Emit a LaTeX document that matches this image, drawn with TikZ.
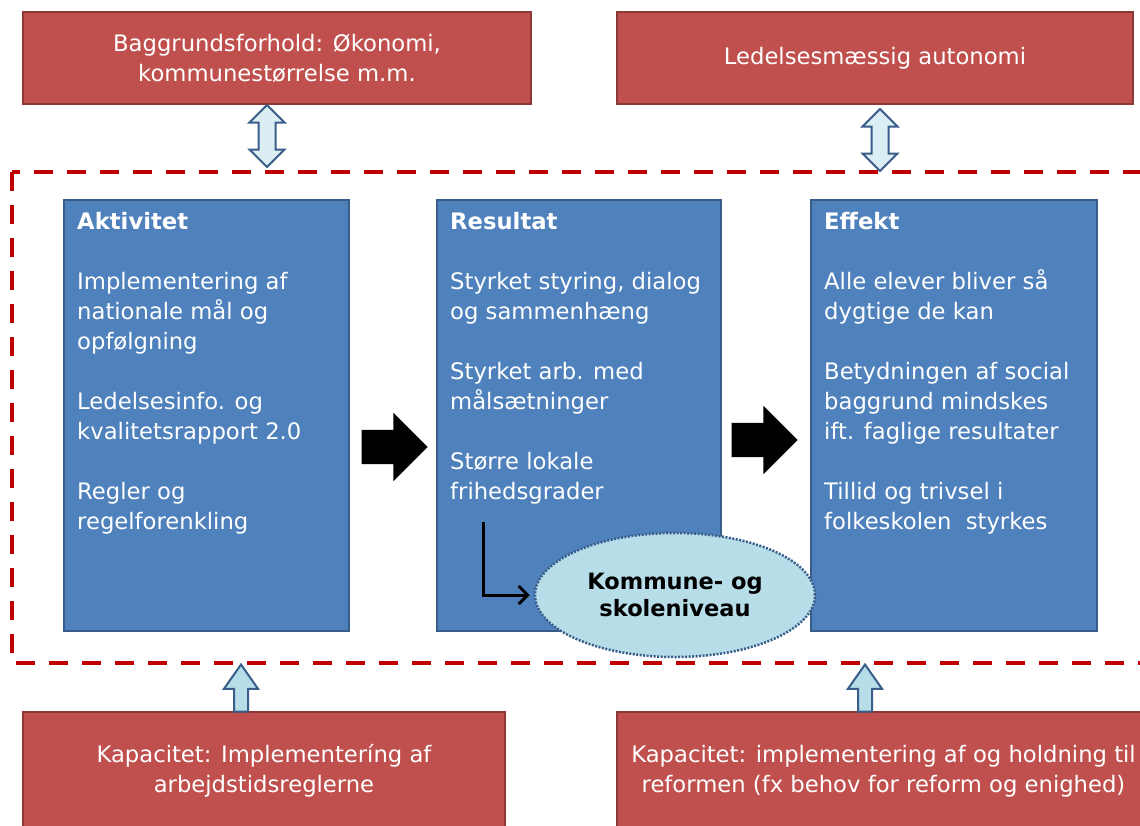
\documentclass[tikz,border=0pt]{standalone}
\usepackage{fontspec}
\setmainfont{DejaVu Sans}
\usetikzlibrary{arrows,arrows.meta,shapes.geometric,shapes.arrows}
\definecolor{boxred}{HTML}{C0504D}
\definecolor{boxredline}{HTML}{8C3836}
\definecolor{boxblue}{HTML}{4F81BD}
\definecolor{boxblueline}{HTML}{385D8A}
\definecolor{framered}{HTML}{C00000}
\definecolor{paleblue}{HTML}{DBEEF4}
\definecolor{lightblue}{HTML}{B7DDE8}

\begin{document}
\begin{tikzpicture}[x=1pt,y=-1pt]
\tikzstyle{every node}=[inner sep=0pt]
\tikzstyle{redbox}=[draw=boxredline, fill=boxred, line width=2pt, text=white, align=center, font=\fontsize{22.7}{30}\selectfont]
\tikzstyle{bluebox}=[draw=boxblueline, fill=boxblue, line width=2.5pt]
\tikzstyle{boxtext}=[anchor=north west, text=white, align=left, font=\fontsize{22.7}{30}\selectfont]
\tikzstyle{twoway}=[double arrow, draw=boxblueline, fill=paleblue, line width=2pt, rotate=90, inner ysep=7.5pt, minimum height=62pt, double arrow head extend=9pt]
\tikzstyle{oneway}=[single arrow, draw=boxblueline, fill=lightblue, line width=2pt, rotate=90, inner ysep=6pt, minimum height=47pt, single arrow head extend=10pt, single arrow tip angle=70]
\tikzstyle{fatarrow}=[single arrow, fill=black, inner ysep=17pt, minimum height=66pt, single arrow head extend=17pt]
\useasboundingbox (0,0) rectangle (1140,825);
\clip (0,0) rectangle (1140,825);
\draw (277,58) node (bg) [redbox, minimum width=508pt, minimum height=92pt] {Baggrundsforhold: Økonomi,\\ kommunestørrelse m.m.};
\draw (875,58) node (auto) [redbox, minimum width=516pt, minimum height=92pt] {Ledelsesmæssig autonomi};
\draw (264,771) node (kap1) [redbox, minimum width=482pt, minimum height=118pt] {Kapacitet: Implementeríng af\\ arbejdstidsreglerne};
\draw (883.5,771) node (kap2) [redbox, minimum width=533pt, minimum height=118pt] {Kapacitet: implementering af og holdning til\\ reformen (fx behov for reform og enighed)};
\draw[framered, line width=4pt, dash pattern=on 19pt off 14pt] (12,172) rectangle (1175,663);
\draw (206.5,415.5) node (akt) [bluebox, minimum width=285pt, minimum height=431pt] {};
\draw (579,415.5) node (res) [bluebox, minimum width=284pt, minimum height=431pt] {};
\draw (954,415.5) node (eff) [bluebox, minimum width=286pt, minimum height=431pt] {};
\draw (77,212) node (akttxt) [boxtext] {\textbf{Aktivitet}\\[30pt] Implementering af\\ nationale mål og\\ opfølgning\\[30pt] Ledelsesinfo. og\\ kvalitetsrapport 2.0\\[30pt] Regler og\\ regelforenkling};
\draw (450,212) node (restxt) [boxtext] {\textbf{Resultat}\\[30pt] Styrket styring, dialog\\ og sammenhæng\\[30pt] Styrket arb. med\\ målsætninger\\[30pt] Større lokale\\ frihedsgrader};
\draw (824,212) node (efftxt) [boxtext] {\textbf{Effekt}\\[30pt] Alle elever bliver så\\ dygtige de kan\\[30pt] Betydningen af social\\ baggrund mindskes\\ ift. faglige resultater\\[30pt] Tillid og trivsel i\\ folkeskolen\ \ styrkes};
\draw (386,447) node (go1) [fatarrow] {};
\draw (756,440) node (go2) [fatarrow] {};
\draw (675,595) node (kom) [ellipse, draw=boxblueline, fill=lightblue, line width=2.5pt, dash pattern=on 2pt off 1.5pt, minimum width=280pt, minimum height=124pt, align=center, font=\bfseries\fontsize{22.5}{27}\selectfont] {Kommune- og\\ skoleniveau};
\coordinate (lstart) at (483,522);
\draw[-{Straight Barb[length=9pt, width=18pt]}, line width=3pt, shorten >=4pt] (lstart) |- (kom.west);
\draw (267,136) node (link1) [twoway] {};
\draw (880,140) node (link2) [twoway] {};
\draw (241,693) node (lift1) [oneway] {};
\draw (865,693) node (lift2) [oneway] {};
\end{tikzpicture}
\end{document}
